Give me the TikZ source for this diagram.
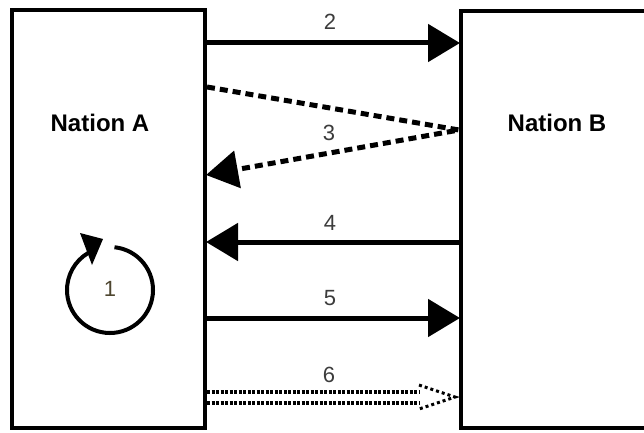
\documentclass[tikz,border=0pt]{standalone}
\usepackage{fontspec}
\setmainfont{Liberation Sans}
\usetikzlibrary{arrows.meta}
\definecolor{numgray}{HTML}{3C3C3C}
\definecolor{numolive}{HTML}{4E4630}
\begin{document}
\begin{tikzpicture}[x=1pt,y=1pt,
  nation/.style={draw, line width=4pt, inner sep=0pt, fill=white},
  nationname/.style={font=\fontsize{24}{24}\selectfont\bfseries},
  flownum/.style={font=\fontsize{22}{22}\selectfont, text=numgray},
  bigtip/.style={-{Triangle[length=32pt,width=37pt]}},
  solidflow/.style={line width=5pt, bigtip},
  dashflow/.style={line width=5pt, dash pattern=on 8pt off 5pt, line join=miter, bigtip},
  dotline/.style={line width=3.5pt, dash pattern=on 3pt off 1.5pt},
  dothead/.style={line width=3pt, dash pattern=on 3pt off 3pt},
]
\clip (0,0) rectangle (644,432);
\fill[white] (0,0) rectangle (644,432);

% the two nations
\node[nation, minimum width=193pt, minimum height=418pt] (A) at (108.5,213) {};
\node[nation, minimum width=219pt, minimum height=417pt] (B) at (570.5,212.5) {};
\node[nationname] (nA) at (100,309) {Nation A};
\node[nationname] (nB) at (557,309) {Nation B};

% attachment points on the borders
\coordinate (a2) at (A.east |- 0,389);
\coordinate (b2) at ([xshift=1pt]B.west |- 0,389);
\coordinate (a3s) at (A.east |- 0,345);
\coordinate (b3) at (B.west |- 0,302);
\coordinate (a3e) at ([xshift=-1pt]A.east |- 0,257);
\coordinate (a4) at ([xshift=-1pt]A.east |- 0,190);
\coordinate (b4) at (B.west |- 0,190);
\coordinate (a5) at (A.east |- 0,114);
\coordinate (b5) at ([xshift=1pt]B.west |- 0,114);
\coordinate (a6u) at (A.east |- 0,40);
\coordinate (a6l) at (A.east |- 0,29);
\coordinate (h6u) at (419,40);
\coordinate (h6l) at (419,29);
\coordinate (h6t) at (419,47);
\coordinate (h6b) at (419,23);
\coordinate (t6) at (455,35);

% flows between the nations
\draw[solidflow] (a2) -- (b2);
\draw[dashflow] (a3s) -- (b3) -- (a3e);
\draw[solidflow] (b4) -- (a4);
\draw[solidflow] (a5) -- (b5);
\draw[dotline] (a6u) -- (h6u);
\draw[dotline] (a6l) -- (h6l);
\draw[dothead] (h6t) -- (t6) -- (h6b);

% internal loop of Nation A
\draw[line width=4pt] (110,142) ++(84:43) arc[start angle=84, end angle=-247, radius=43];
\fill (80,199) -- (103,193) -- (92,167) -- cycle;

% flow numbers
\node[flownum, text=numolive] (n1) at (110,143) {1};
\node[flownum] (n2) at (330,410) {2};
\node[flownum] (n3) at (329,299) {3};
\node[flownum] (n4) at (330,209) {4};
\node[flownum] (n5) at (330,134) {5};
\node[flownum] (n6) at (329,57) {6};
\end{tikzpicture}
\end{document}
